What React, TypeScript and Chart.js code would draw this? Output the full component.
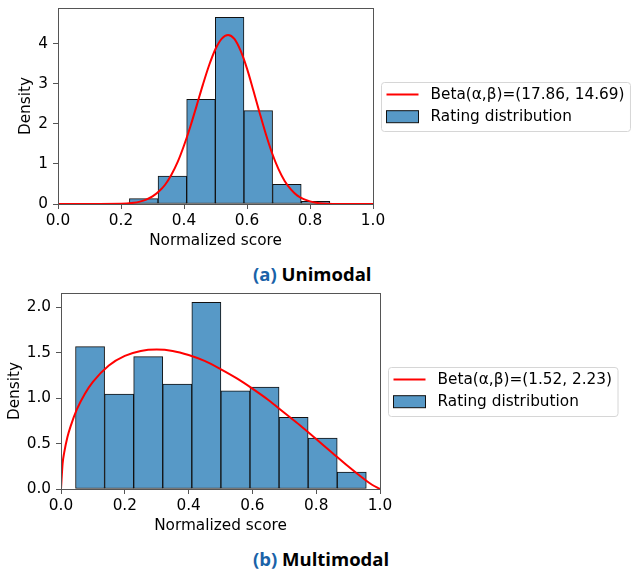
import React, { useEffect, useRef } from 'react';
import { Chart, registerables } from 'chart.js';

Chart.register(...registerables);

// ---------- data ----------
const xTickValues = [0, 0.2, 0.4, 0.6, 0.8, 1.0];
const histLabel = 'Rating distribution';

// (a) Unimodal
const uniBetaLabel = 'Beta(α,β)=(17.86, 14.69)';
const uniEdges = [0.2267, 0.3176, 0.4085, 0.4994, 0.5903, 0.6812, 0.7721, 0.863];
const uniDensity = [0.133, 0.7, 2.61, 4.66, 2.33, 0.49, 0.067];
const uniCurveX = [0, 0.1, 0.2, 0.24, 0.26, 0.28, 0.3, 0.32, 0.34, 0.36, 0.38, 0.4, 0.42, 0.44, 0.46, 0.48, 0.5, 0.52, 0.54, 0.56, 0.58, 0.6, 0.62, 0.64, 0.66, 0.68, 0.7, 0.72, 0.74, 0.76, 0.78, 0.8, 0.82, 0.84, 0.88, 0.92, 1.0];
const uniCurveY = [0, 0, 0.004, 0.03, 0.06, 0.11, 0.19, 0.31, 0.48, 0.73, 1.05, 1.46, 1.93, 2.45, 2.98, 3.47, 3.87, 4.13, 4.22, 4.12, 3.82, 3.38, 2.84, 2.28, 1.74, 1.26, 0.87, 0.57, 0.36, 0.21, 0.12, 0.065, 0.03, 0.012, 0.002, 0, 0];
const uniYTicks = [0, 1, 2, 3, 4];
const uniYMax = 4.893;

// (b) Multimodal
const multiBetaLabel = 'Beta(α,β)=(1.52, 2.23)';
const multiEdges = [0.0455, 0.1367, 0.2278, 0.319, 0.4101, 0.5013, 0.5924, 0.6836, 0.7747, 0.8659, 0.957];
const multiDensity = [1.568, 1.044, 1.458, 1.154, 2.055, 1.081, 1.121, 0.788, 0.56, 0.187];
const multiCurveX = [0, 0.005, 0.01, 0.02, 0.03, 0.05, 0.075, 0.1, 0.15, 0.2, 0.25, 0.3, 0.35, 0.4, 0.45, 0.5, 0.55, 0.6, 0.65, 0.7, 0.75, 0.8, 0.85, 0.9, 0.95, 0.975, 1.0];
const multiCurveY = [0, 0.28, 0.4, 0.57, 0.69, 0.88, 1.05, 1.18, 1.36, 1.465, 1.52, 1.535, 1.52, 1.475, 1.41, 1.32, 1.22, 1.105, 0.98, 0.84, 0.7, 0.55, 0.4, 0.25, 0.11, 0.047, 0];
const multiYTicks = [0, 0.5, 1.0, 1.5, 2.0];
const multiYMax = 2.158;

// ---------- styles ----------
const FONT_FAMILY = '"DejaVu Sans", sans-serif';
const FONT_SIZE = 15.3;
const BAR_FILL = '#5799c7';
const SPINE = '#555555';

const spinePlugin = {
  id: 'spines',
  afterDatasetsDraw(chart: any) {
    const { ctx, chartArea: a } = chart;
    ctx.save();
    ctx.strokeStyle = SPINE;
    ctx.lineWidth = 1;
    ctx.strokeRect(Math.round(a.left) + 0.5, Math.round(a.top) + 0.5, Math.round(a.right - a.left), Math.round(a.bottom - a.top));
    ctx.restore();
  },
};

const boxLegendPlugin = {
  id: 'boxLegend',
  afterDraw(chart: any) {
    const { ctx, chartArea: a } = chart;
    const ds = chart.data.datasets;
    ctx.save();
    ctx.font = `${FONT_SIZE}px ${FONT_FAMILY}`;
    const textW = Math.max(...ds.map((d: any) => ctx.measureText(d.label).width));
    const L = Math.round(a.right) + 8.5;
    const W = textW + 55;
    const H = 49;
    const T = Math.round((a.top + a.bottom) / 2 - H / 2) + 0.5;
    ctx.beginPath();
    ctx.roundRect(L, T, W, H, 3);
    ctx.fillStyle = 'rgba(255,255,255,0.8)';
    ctx.fill();
    ctx.strokeStyle = '#d6d6d6';
    ctx.lineWidth = 1;
    ctx.stroke();
    ds.forEach((d: any, i: number) => {
      const cy = T + 12 + i * 22.2;
      if (d.type === 'line') {
        ctx.beginPath();
        ctx.moveTo(L + 5, cy);
        ctx.lineTo(L + 37, cy);
        ctx.strokeStyle = d.borderColor;
        ctx.lineWidth = d.borderWidth;
        ctx.stroke();
      } else {
        ctx.fillStyle = d.backgroundColor;
        ctx.fillRect(L + 5, cy - 6, 32, 12);
        ctx.strokeStyle = d.borderColor;
        ctx.lineWidth = 1;
        ctx.strokeRect(L + 5, cy - 6, 32, 12);
      }
      ctx.fillStyle = '#000';
      ctx.textBaseline = 'middle';
      ctx.textAlign = 'left';
      ctx.fillText(d.label, L + 49, cy + 0.5);
    });
    ctx.restore();
  },
};

type HistProps = {
  edges: number[];
  density: number[];
  curveX: number[];
  curveY: number[];
  betaLabel: string;
  yTicks: number[];
  yMax: number;
  yDecimals: number;
  yAxisWidth: number;
  yTitlePad: number;
  rightPad: number;
  topPad: number;
  width: number;
  height: number;
  left: number;
  top: number;
};

function HistChart(p: HistProps) {
  const ref = useRef<HTMLCanvasElement | null>(null);
  useEffect(() => {
    if (!ref.current) return;
    const font = { family: FONT_FAMILY, size: FONT_SIZE };
    const chart = new Chart(ref.current, {
      type: 'bar',
      data: {
        datasets: [
          {
            type: 'line',
            label: p.betaLabel,
            data: p.curveX.map((x, i) => ({ x, y: p.curveY[i] })),
            borderColor: '#ff0000',
            borderWidth: 2,
            pointRadius: 0,
            cubicInterpolationMode: 'monotone',
            fill: false,
            order: 0,
          } as any,
          {
            type: 'bar',
            label: histLabel,
            data: p.density.map((d, i) => ({ x: (p.edges[i] + p.edges[i + 1]) / 2, y: d })),
            backgroundColor: BAR_FILL,
            borderColor: '#111111',
            borderWidth: 1,
            borderSkipped: false,
            barPercentage: 1,
            categoryPercentage: 1,
            grouped: false,
            order: 1,
          } as any,
        ],
      },
      options: {
        animation: false,
        responsive: false,
        maintainAspectRatio: false,
        layout: { padding: { left: 0, right: p.rightPad, top: p.topPad, bottom: 0 } },
        plugins: { legend: { display: false }, tooltip: { enabled: false } },
        scales: {
          x: {
            type: 'linear',
            min: 0,
            max: 1,
            offset: false,
            afterBuildTicks: (s: any) => {
              s.ticks = xTickValues.map((v) => ({ value: v }));
            },
            afterFit: (s: any) => {
              s.height = 46;
              s.paddingLeft = 0;
              s.paddingRight = 0;
            },
            ticks: {
              color: '#000',
              font,
              padding: 3,
              maxRotation: 0,
              autoSkip: false,
              callback: (v: any) => Number(v).toFixed(1),
            },
            grid: { display: true, offset: false, drawOnChartArea: false, drawTicks: true, tickLength: 5, tickColor: SPINE, tickWidth: 1 },
            border: { display: false },
            title: { display: true, text: 'Normalized score', color: '#000', font, padding: { top: 0, bottom: 0 } },
          },
          y: {
            type: 'linear',
            min: 0,
            max: p.yMax,
            afterBuildTicks: (s: any) => {
              s.ticks = p.yTicks.map((v) => ({ value: v }));
            },
            afterFit: (s: any) => {
              s.width = p.yAxisWidth;
              s.paddingTop = 0;
              s.paddingBottom = 0;
            },
            ticks: {
              color: '#000',
              font,
              padding: 5,
              callback: (v: any) => Number(v).toFixed(p.yDecimals),
            },
            grid: { display: true, offset: false, drawOnChartArea: false, drawTicks: true, tickLength: 5, tickColor: SPINE, tickWidth: 1 },
            border: { display: false },
            title: { display: true, text: 'Density', color: '#000', font, padding: { top: p.yTitlePad, bottom: 0 } },
          },
        },
      } as any,
      plugins: [spinePlugin, boxLegendPlugin],
    });
    return () => chart.destroy();
  }, []);
  return (
    <canvas
      ref={ref}
      width={p.width}
      height={p.height}
      style={{ position: 'absolute', left: p.left, top: p.top, width: p.width, height: p.height, display: 'block' }}
    />
  );
}

const captionStyle: React.CSSProperties = {
  position: 'absolute',
  left: 253,
  fontFamily: '"Open Sans", Lato, sans-serif',
  fontWeight: 700,
  fontSize: 18.5,
  lineHeight: '18px',
  color: '#000',
  whiteSpace: 'nowrap',
};

export default function App() {
  return (
    <div style={{ position: 'absolute', left: 0, top: 0, width: 639, height: 572, background: '#fff', overflow: 'hidden' }}>
      <HistChart
        edges={uniEdges}
        density={uniDensity}
        curveX={uniCurveX}
        curveY={uniCurveY}
        betaLabel={uniBetaLabel}
        yTicks={uniYTicks}
        yMax={uniYMax}
        yDecimals={0}
        yAxisWidth={58}
        yTitlePad={17}
        rightPad={266}
        topPad={8}
        width={639}
        height={250}
        left={0}
        top={0}
      />
      <div style={{ ...captionStyle, top: 265 }}>
        <span style={{ color: '#1a62a8' }}>(a)</span> Unimodal
      </div>
      <HistChart
        edges={multiEdges}
        density={multiDensity}
        curveX={multiCurveX}
        curveY={multiCurveY}
        betaLabel={multiBetaLabel}
        yTicks={multiYTicks}
        yMax={multiYMax}
        yDecimals={1}
        yAxisWidth={61}
        yTitlePad={6}
        rightPad={259}
        topPad={9}
        width={639}
        height={251}
        left={0}
        top={284}
      />
      <div style={{ ...captionStyle, top: 550 }}>
        <span style={{ color: '#1a62a8' }}>(b)</span> Multimodal
      </div>
    </div>
  );
}
